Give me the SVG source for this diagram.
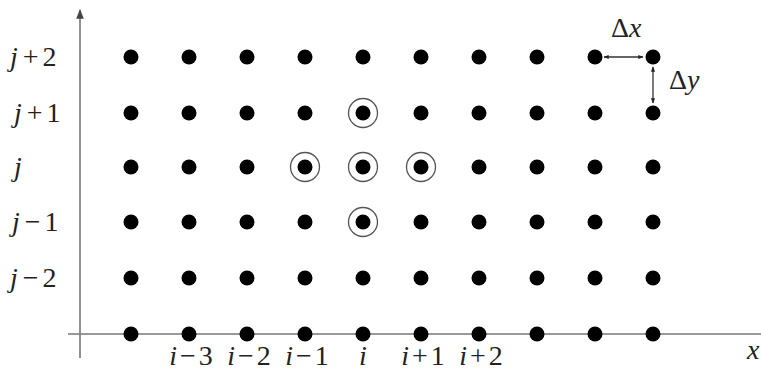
<svg xmlns="http://www.w3.org/2000/svg" width="761" height="383" viewBox="0 0 761 383">
<style>
.lbl{font-family:"Liberation Serif","Times New Roman",Times,serif;font-size:28px;fill:#222}
.it{font-style:italic}
.axis{stroke:#777;stroke-width:1.6;fill:none}
.dot{fill:#000}
.ring{fill:none;stroke:#555;stroke-width:1.3}
.dim{stroke:#333;stroke-width:1.3;fill:none}
</style>
<defs>
<marker id="ah" viewBox="0 0 10 10" refX="9" refY="5" markerWidth="6" markerHeight="6" orient="auto-start-reverse"><path d="M0,1 L10,5 L0,9 z" fill="#444"/></marker>
<marker id="sm" viewBox="0 0 10 10" refX="9" refY="5" markerWidth="4" markerHeight="4" orient="auto-start-reverse"><path d="M0,1 L10,5 L0,9 z" fill="#222"/></marker>
</defs>
<g id="connectors">
<line class="axis" x1="80" y1="358" x2="80" y2="10" marker-end="url(#ah)"/>
<line class="axis" x1="68" y1="334" x2="761" y2="334"/>
<line class="dim" x1="604" y1="57" x2="643" y2="57" marker-start="url(#sm)" marker-end="url(#sm)"/>
<line class="dim" x1="653" y1="67" x2="653" y2="103" marker-start="url(#sm)" marker-end="url(#sm)"/>
</g>
<g id="grid">
<g id="dots">
<g id="row-j2">
<circle class="dot" cx="131" cy="57" r="7.5"/><circle class="dot" cx="189" cy="57" r="7.5"/><circle class="dot" cx="247" cy="57" r="7.5"/><circle class="dot" cx="305" cy="57" r="7.5"/><circle class="dot" cx="363" cy="57" r="7.5"/><circle class="dot" cx="421" cy="57" r="7.5"/><circle class="dot" cx="479" cy="57" r="7.5"/><circle class="dot" cx="537" cy="57" r="7.5"/><circle class="dot" cx="595" cy="57" r="7.5"/><circle class="dot" cx="653" cy="57" r="7.5"/>
</g>
<g id="row-j1">
<circle class="dot" cx="131" cy="113" r="7.5"/><circle class="dot" cx="189" cy="113" r="7.5"/><circle class="dot" cx="247" cy="113" r="7.5"/><circle class="dot" cx="305" cy="113" r="7.5"/><circle class="dot" cx="363" cy="113" r="7.5"/><circle class="dot" cx="421" cy="113" r="7.5"/><circle class="dot" cx="479" cy="113" r="7.5"/><circle class="dot" cx="537" cy="113" r="7.5"/><circle class="dot" cx="595" cy="113" r="7.5"/><circle class="dot" cx="653" cy="113" r="7.5"/>
</g>
<g id="row-j">
<circle class="dot" cx="131" cy="167" r="7.5"/><circle class="dot" cx="189" cy="167" r="7.5"/><circle class="dot" cx="247" cy="167" r="7.5"/><circle class="dot" cx="305" cy="167" r="7.5"/><circle class="dot" cx="363" cy="167" r="7.5"/><circle class="dot" cx="421" cy="167" r="7.5"/><circle class="dot" cx="479" cy="167" r="7.5"/><circle class="dot" cx="537" cy="167" r="7.5"/><circle class="dot" cx="595" cy="167" r="7.5"/><circle class="dot" cx="653" cy="167" r="7.5"/>
</g>
<g id="row-jm1">
<circle class="dot" cx="131" cy="222" r="7.5"/><circle class="dot" cx="189" cy="222" r="7.5"/><circle class="dot" cx="247" cy="222" r="7.5"/><circle class="dot" cx="305" cy="222" r="7.5"/><circle class="dot" cx="363" cy="222" r="7.5"/><circle class="dot" cx="421" cy="222" r="7.5"/><circle class="dot" cx="479" cy="222" r="7.5"/><circle class="dot" cx="537" cy="222" r="7.5"/><circle class="dot" cx="595" cy="222" r="7.5"/><circle class="dot" cx="653" cy="222" r="7.5"/>
</g>
<g id="row-jm2">
<circle class="dot" cx="131" cy="278" r="7.5"/><circle class="dot" cx="189" cy="278" r="7.5"/><circle class="dot" cx="247" cy="278" r="7.5"/><circle class="dot" cx="305" cy="278" r="7.5"/><circle class="dot" cx="363" cy="278" r="7.5"/><circle class="dot" cx="421" cy="278" r="7.5"/><circle class="dot" cx="479" cy="278" r="7.5"/><circle class="dot" cx="537" cy="278" r="7.5"/><circle class="dot" cx="595" cy="278" r="7.5"/><circle class="dot" cx="653" cy="278" r="7.5"/>
</g>
<g id="row-axis">
<circle class="dot" cx="131" cy="334" r="7.5"/><circle class="dot" cx="189" cy="334" r="7.5"/><circle class="dot" cx="247" cy="334" r="7.5"/><circle class="dot" cx="305" cy="334" r="7.5"/><circle class="dot" cx="363" cy="334" r="7.5"/><circle class="dot" cx="421" cy="334" r="7.5"/><circle class="dot" cx="479" cy="334" r="7.5"/><circle class="dot" cx="537" cy="334" r="7.5"/><circle class="dot" cx="595" cy="334" r="7.5"/><circle class="dot" cx="653" cy="334" r="7.5"/>
</g>
</g>
<g id="stencil">
<circle class="ring" cx="363" cy="113" r="14.5"/>
<circle class="ring" cx="305" cy="167" r="14.5"/>
<circle class="ring" cx="363" cy="167" r="14.5"/>
<circle class="ring" cx="421" cy="167" r="14.5"/>
<circle class="ring" cx="363" cy="222" r="14.5"/>
</g>
</g>
<g id="labels">
<text class="lbl" x="10" y="66"><tspan class="it">j</tspan><tspan dx="5">+</tspan><tspan dx="4">2</tspan></text>
<text class="lbl" x="14" y="122"><tspan class="it">j</tspan><tspan dx="5">+</tspan><tspan dx="4">1</tspan></text>
<text class="lbl" x="14" y="176"><tspan class="it">j</tspan></text>
<text class="lbl" x="12" y="231"><tspan class="it">j</tspan><tspan dx="5">−</tspan><tspan dx="4">1</tspan></text>
<text class="lbl" x="10" y="287"><tspan class="it">j</tspan><tspan dx="5">−</tspan><tspan dx="4">2</tspan></text>
<text class="lbl" x="191" y="365" text-anchor="middle"><tspan class="it">i</tspan><tspan dx="3">−</tspan><tspan dx="3">3</tspan></text>
<text class="lbl" x="249" y="365" text-anchor="middle"><tspan class="it">i</tspan><tspan dx="3">−</tspan><tspan dx="3">2</tspan></text>
<text class="lbl" x="307" y="365" text-anchor="middle"><tspan class="it">i</tspan><tspan dx="3">−</tspan><tspan dx="3">1</tspan></text>
<text class="lbl it" x="363" y="365" text-anchor="middle">i</text>
<text class="lbl" x="423" y="365" text-anchor="middle"><tspan class="it">i</tspan><tspan dx="3">+</tspan><tspan dx="3">1</tspan></text>
<text class="lbl" x="481" y="365" text-anchor="middle"><tspan class="it">i</tspan><tspan dx="3">+</tspan><tspan dx="3">2</tspan></text>
<text class="lbl it" x="747" y="359">x</text>
<text class="lbl" x="611" y="37">Δ<tspan class="it">x</tspan></text>
<text class="lbl" x="669" y="89">Δ<tspan class="it">y</tspan></text>
</g>
</svg>
